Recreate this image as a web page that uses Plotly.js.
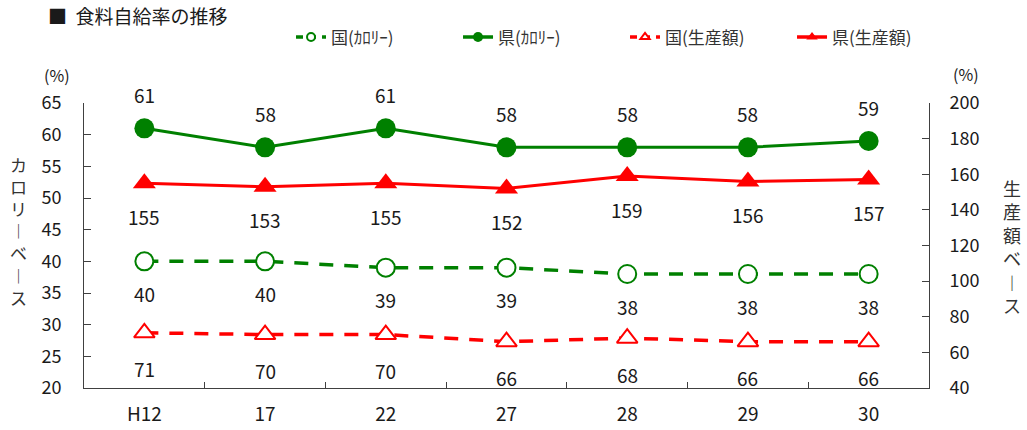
<!DOCTYPE html>
<html>
<head>
<meta charset="utf-8">
<script src="https://cdn.plot.ly/plotly-3.0.1.min.js"></script>
<style>
  html, body { margin: 0; padding: 0; background: #fff; }
  #chart { width: 1027px; height: 430px; }
</style>
</head>
<body>
<div id="chart"></div>
<script>
// 年度（平成）
const categories = ['H12', '17', '22', '27', '28', '29', '30'];

// カロリーベース（%）
const kuniCalorie = [40, 40, 39, 39, 38, 38, 38];
const kenCalorie = [61, 58, 61, 58, 58, 58, 59];

// 生産額ベース（%）
const kuniSeisan = [71, 70, 70, 66, 68, 66, 66];
const kenSeisan = [155, 153, 155, 152, 159, 156, 157];

const seriesNames = ['国(ｶﾛﾘｰ)', '県(ｶﾛﾘｰ)', '国(生産額)', '県(生産額)'];

const FONT = '"Noto Sans CJK JP", "Noto Sans", sans-serif';
const GREEN = '#008000';
const RED = '#ff0000';
const AXIS = '#404040';
const TEXT = '#1a1a1a';

// 系列ごとの線・マーカー設定
const styles = [
  { color: GREEN, dash: '14px,11px', width: 3.5, symbol: 'circle', open: true, axis: 'y' },
  { color: GREEN, dash: 'solid', width: 3, symbol: 'circle', open: false, axis: 'y' },
  { color: RED, dash: '14px,11px', width: 3.5, symbol: 'triangle-up', open: true, axis: 'y2' },
  { color: RED, dash: 'solid', width: 3, symbol: 'triangle-up', open: false, axis: 'y2' }
];
const values = [kuniCalorie, kenCalorie, kuniSeisan, kenSeisan];

function markerFor(s, size) {
  return s.open
    ? { symbol: s.symbol, size: size, color: '#ffffff', line: { color: s.color, width: 2 } }
    : { symbol: s.symbol, size: size + 2, color: s.color };
}

const traces = [];
values.forEach((vals, k) => {
  const s = styles[k];
  traces.push({
    name: seriesNames[k], x: categories.map((c, i) => i), y: vals, yaxis: s.axis,
    mode: 'lines+markers', type: 'scatter', showlegend: false,
    line: { color: s.color, width: s.width, dash: s.dash },
    marker: markerFor(s, 18)
  });
});
// 凡例用（小さめのマーカー）
values.forEach((vals, k) => {
  const s = styles[k];
  traces.push({
    name: seriesNames[k], x: [null], y: [null], yaxis: s.axis,
    mode: 'lines+markers', type: 'scatter', showlegend: true,
    line: { color: s.color, width: 3.5, dash: s.open ? '7px,6px' : 'solid' },
    marker: markerFor(s, 8)
  });
});

// 各点の数値ラベル
function valueLabels(vals, yref, shift) {
  return vals.map((v, i) => ({
    x: i, y: v, xref: 'x', yref: yref,
    text: String(v), showarrow: false, yshift: shift,
    xanchor: 'center', yanchor: 'middle',
    font: { family: FONT, size: 19, color: TEXT }
  }));
}

const annotations = [].concat(
  valueLabels(kenCalorie, 'y', 34),
  valueLabels(kenSeisan, 'y2', -33),
  valueLabels(kuniCalorie, 'y', -32),
  valueLabels(kuniSeisan, 'y2', -36),
  [
    { xref: 'paper', yref: 'paper', x: -0.032, y: 1.098, xanchor: 'center', yanchor: 'middle',
      text: '(%)', showarrow: false, font: { family: FONT, size: 16, color: TEXT } },
    { xref: 'paper', yref: 'paper', x: 1.044, y: 1.102, xanchor: 'center', yanchor: 'middle',
      text: '(%)', showarrow: false, font: { family: FONT, size: 16, color: TEXT } },
    { xref: 'paper', yref: 'paper', x: -0.078, y: 0.551, xanchor: 'center', yanchor: 'middle',
      text: 'カ<br>ロ<br>リ<br>︱<br>ベ<br>︱<br>ス', showarrow: false,
      font: { family: FONT, size: 17, color: '#333333' } },
    { xref: 'paper', yref: 'paper', x: 1.098, y: 0.498, xanchor: 'center', yanchor: 'middle',
      text: '生<br>産<br>額<br>ベ<br>︱<br>ス', showarrow: false,
      font: { family: FONT, size: 18, color: '#333333' } }
  ]
);

const layout = {
  width: 1027, height: 430,
  margin: { l: 84, r: 98, t: 103, b: 42 },
  paper_bgcolor: '#ffffff', plot_bgcolor: '#ffffff',
  font: { family: FONT, color: TEXT },
  title: {
    text: '■  食料自給率の推移',
    x: 48 / 1027, xanchor: 'left', xref: 'container',
    y: 1 - 17 / 430, yanchor: 'middle', yref: 'container',
    font: { family: FONT, size: 19, color: TEXT }
  },
  showlegend: true,
  legend: {
    orientation: 'h', x: 0.245, xanchor: 'left', y: 1.23, yanchor: 'middle',
    font: { family: FONT, size: 17, color: '#333333' },
    bgcolor: 'rgba(0,0,0,0)', entrywidth: 122, entrywidthmode: 'pixels'
  },
  xaxis: {
    type: 'category', range: [-0.5, 6.5],
    tickmode: 'array', tickvals: categories.map((c, i) => i), ticktext: categories,
    showline: true, linecolor: AXIS, linewidth: 1, mirror: false,
    showgrid: false, zeroline: false,
    ticks: 'inside', tickson: 'boundaries', ticklen: 6, tickcolor: AXIS,
    ticklabelstandoff: 9,
    tickfont: { family: FONT, size: 19, color: TEXT }
  },
  yaxis: {
    range: [20, 65], dtick: 5, tick0: 20,
    showline: true, linecolor: AXIS, linewidth: 1,
    showgrid: false, zeroline: false,
    ticks: 'inside', ticklen: 7, tickcolor: AXIS,
    ticklabelstandoff: 18,
    tickfont: { family: FONT, size: 18, color: TEXT }
  },
  yaxis2: {
    overlaying: 'y', side: 'right',
    range: [40, 200], dtick: 20, tick0: 40,
    showline: true, linecolor: AXIS, linewidth: 1,
    showgrid: false, zeroline: false,
    ticks: 'inside', ticklen: 7, tickcolor: AXIS,
    ticklabelstandoff: 16,
    tickfont: { family: FONT, size: 18, color: TEXT }
  },
  annotations: annotations
};

Plotly.newPlot('chart', traces, layout, { staticPlot: true, displayModeBar: false });
</script>
</body>
</html>
